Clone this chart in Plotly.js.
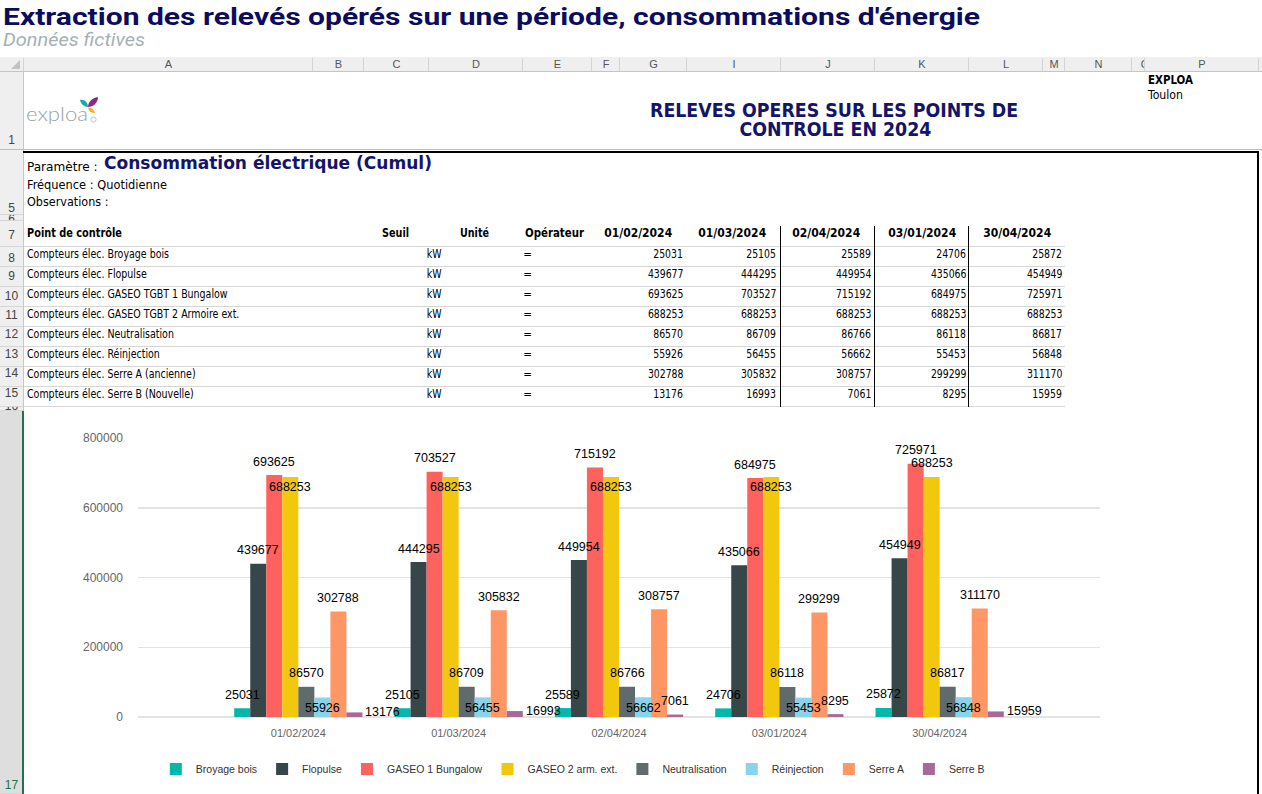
<!DOCTYPE html>
<html><head><meta charset="utf-8">
<script src="https://cdn.plot.ly/plotly-3.0.1.min.js"></script>
<style>
html,body{margin:0;padding:0;width:1262px;height:794px;overflow:hidden;background:#fff;}
#page{position:relative;width:1262px;height:794px;overflow:hidden;background:#fff;}
.abs{position:absolute;box-sizing:border-box;}
.t{position:absolute;white-space:nowrap;font-family:"DejaVu Sans Condensed","DejaVu Sans",sans-serif;color:#000;}
#chart{position:absolute;left:24px;top:411px;width:1234px;height:383px;}
</style></head>
<body><div id="page"><div id="chart"></div></div>
<script>
// ---------- DATA ----------
const dates = ['01/02/2024','01/03/2024','02/04/2024','03/01/2024','30/04/2024'];
const pointNames = ['Compteurs élec. Broyage bois','Compteurs élec. Flopulse','Compteurs élec. GASEO TGBT 1 Bungalow','Compteurs élec. GASEO TGBT 2 Armoire ext.','Compteurs élec. Neutralisation','Compteurs élec. Réinjection','Compteurs élec. Serre A (ancienne)','Compteurs élec. Serre B (Nouvelle)'];
const seriesNames = ['Broyage bois','Flopulse','GASEO 1 Bungalow','GASEO 2 arm. ext.','Neutralisation','Réinjection','Serre A','Serre B'];
const broyage = [25031,25105,25589,24706,25872];
const flopulse = [439677,444295,449954,435066,454949];
const gaseo1 = [693625,703527,715192,684975,725971];
const gaseo2 = [688253,688253,688253,688253,688253];
const neutralisation = [86570,86709,86766,86118,86817];
const reinjection = [55926,56455,56662,55453,56848];
const serreA = [302788,305832,308757,299299,311170];
const serreB = [13176,16993,7061,8295,15959];
const unit = 'kW';
const operator = '=';
const yTicks = [0,200000,400000,600000,800000];
const colLetters = ['A','B','C','D','E','F','G','I','J','K','L','M','N','O','P'];
const rowLabels = ['1','5','6','7','8','9','10','11','12','13','14','15','16','17'];

// ---------- STYLE ----------
const seriesValues = [broyage,flopulse,gaseo1,gaseo2,neutralisation,reinjection,serreA,serreB];
const colors = ['#01B8AA','#374649','#FD625E','#F2C80F','#5F6B6D','#8AD4EB','#FE9666','#A66999'];
const labelPlace = [
  ['out','out','out','out','out'],
  ['out','out','out','out','out'],
  ['out','out','out','out','out'],
  ['in','in','in','in','out'],
  ['out','out','out','out','out'],
  ['in','in','in','in','in'],
  ['out','out','out','out','out'],
  ['right','right','out','out','right']
];
const NAVY = '#14146a';
const page = document.getElementById('page');
const SS = '"DejaVu Sans Condensed","DejaVu Sans",sans-serif';

function box(x,y,w,h,bg,parent){
  const d=document.createElement('div'); d.className='abs';
  Object.assign(d.style,{left:x+'px',top:y+'px',width:w+'px',height:h+'px',background:bg||'transparent'});
  (parent||page).appendChild(d); return d;
}
const cv=document.createElement('canvas').getContext('2d');
function measure(str,fs,bold,family){
  cv.font=(bold?'bold ':'')+fs+'px '+(family||SS);
  return cv.measureText(str).width;
}
function text(str,o){
  const s=document.createElement('div'); s.className='t'; s.textContent=str;
  const fs=o.fs||11.5;
  s.style.fontSize=fs+'px'; s.style.lineHeight=(fs*1.2)+'px';
  if(o.bold) s.style.fontWeight='bold';
  if(o.weight) s.style.fontWeight=o.weight;
  if(o.italic) s.style.fontStyle='italic';
  if(o.family) s.style.fontFamily=o.family;
  s.style.color=o.color||'#000';
  (o.parent||page).appendChild(s);
  const nat=s.getBoundingClientRect().width;
  const sx=o.w? o.w/nat : (o.sx||1);
  const al=o.align||'left';
  const left= al==='left'? o.x : al==='right'? o.x-nat : o.x-nat/2;
  s.style.left=left+'px';
  s.style.top=(o.cy-0.585*fs)+'px';
  s.style.transformOrigin= al==='left'?'0 50%': al==='right'?'100% 50%':'50% 50%';
  s.style.transform='scaleX('+sx+')';
  return s;
}

// ---------- PAGE TITLE ----------
text('Extraction des relevés opérés sur une période, consommations d\'énergie',{x:3,cy:16.5,fs:24.5,bold:true,family:'Roboto',color:'#0c0c5c',w:977});
text('Données fictives',{x:3,cy:39.4,fs:18,italic:true,family:'Roboto',color:'#a7afb4',w:142});

// ---------- SPREADSHEET CHROME ----------
const colBounds=[23,312,363,428,522,591,619,686,780,874,968,1042,1064,1131,1144,1258,1300];
box(0,57,1262,15,'#efefef');
box(0,71,1262,1,'#c4c4c4');
const tri=box(11,60,9,9,'#c2c2c2'); tri.style.clipPath='polygon(100% 0,100% 100%,0 100%)';
for(let i=0;i<colBounds.length-1;i++){
  box(colBounds[i],58,1,13,'#d4d4d4');
  if(i<colLetters.length){
    const c=box(colBounds[i]+1,57,colBounds[i+1]-colBounds[i]-1,15); c.style.overflow='hidden';
    const cx = colLetters[i]==='O' ? (1145-colBounds[i]-1) : (colBounds[i+1]-colBounds[i])/2;
    text(colLetters[i],{x:cx,cy:7.5,fs:11,align:'center',color:'#555',family:'"Liberation Sans",Arial,sans-serif',parent:c});
  }
}
// row headers
const rowCells=[[72,150],[150,215],[215,221],[221,246.5],[246.5,266.5],[266.5,286.5],[286.5,306.5],[306.5,326.5],[326.5,346.5],[346.5,366.5],[366.5,386.5],[386.5,406.5],[406.5,411],[411,794]];
const rowCy=[140,208,219.5,235,258.3,276.5,295.7,315,334.3,354,373.3,393.3,406,785];
rowCells.forEach((r,i)=>{
  const last = i===rowCells.length-1;
  const c=box(0,r[0],23,r[1]-r[0],last?'#dedede':'#efefef'); c.style.overflow='hidden';
  c.style.borderBottom='1px solid #d6d6d6';
  text(rowLabels[i],{x:11.5,cy:rowCy[i]-r[0],fs:12,align:'center',color:last?'#217346':'#444',family:'"Liberation Sans",Arial,sans-serif',parent:c});
});
box(23,72,1,339,'#c6c6c6');
box(22,411,2,383,'#217346');
box(0,149,1262,1,'#bdbdbd');

// logo
text('exploa',{x:26,cy:114,fs:19,weight:300,family:'Lato,"Open Sans",sans-serif',color:'#97a2a5',w:62});
const logo=document.createElementNS('http://www.w3.org/2000/svg','svg');
logo.setAttribute('width','26'); logo.setAttribute('height','30');
logo.style.position='absolute'; logo.style.left='78px'; logo.style.top='95px';
logo.innerHTML='<path d="M2,5 C6,4 10,7 10,12 C6,12 3,9 2,5Z" fill="#1aa9a0"/>'+
 '<path d="M10,12 C10,7 14,3 20,2 C20,8 15,12 10,12Z" fill="#8a2a82"/>'+
 '<path d="M10,13 C13,12 16,14 17,18 C13,18 11,16 10,13Z" fill="#f0b21c"/>'+
 '<circle cx="15.5" cy="24.5" r="2.6" fill="none" stroke="#b0b8ba" stroke-width="0.8"/>';
page.appendChild(logo);

// row 1 texts
text('RELEVES OPERES SUR LES POINTS DE',{x:834,cy:109.7,fs:19,bold:true,color:NAVY,align:'center',w:368});
text('CONTROLE EN 2024',{x:835,cy:129,fs:19,bold:true,color:NAVY,align:'center',w:192});
text('EXPLOA',{x:1148,cy:81,fs:11.5,bold:true,w:45});
text('Toulon',{x:1148,cy:95.5,fs:11.5,w:35});

// borders
box(23,151,1236,2,'#000');
box(1257,151,2,643,'#000');

// row 5
text('Paramètre :',{x:26.5,cy:167.5,fs:11.5,w:70.5});
text('Consommation électrique (Cumul)',{x:104,cy:163,fs:17.5,bold:true,color:NAVY,w:328});
text('Fréquence : Quotidienne',{x:26.5,cy:186,fs:11.5,w:140});
text('Observations :',{x:26.5,cy:203,fs:11.5,w:81.5});

// table header
const hdrCy=234;
text('Point de contrôle',{x:26.5,cy:hdrCy,fs:11.5,bold:true,w:95});
text('Seuil',{x:382,cy:hdrCy,fs:11.5,bold:true,w:27});
text('Unité',{x:460,cy:hdrCy,fs:11.5,bold:true,w:29});
text('Opérateur',{x:525,cy:hdrCy,fs:11.5,bold:true,w:59});
const dateRight=[672,766,860,956,1051];
const numRight=[683,776,871,966,1062];
dates.forEach((d,j)=>text(d,{x:dateRight[j],cy:hdrCy,fs:11.5,bold:true,align:'right',w:68}));
// table lines
for(let i=0;i<=8;i++) box(24,245.5+20*i,1041,1.5,'#d6d6d6');
[780,874,968].forEach(x=>box(x,226,1,181,'#000'));
// table body
const nameSx=142/measure(pointNames[0],11.5,false);
const numSx=35.6/measure('439677',11.5,false);
pointNames.forEach((n,i)=>{
  const cy=254.5+20*i;
  text(n,{x:26.5,cy,fs:11.5,sx:nameSx});
  text(unit,{x:434.6,cy,fs:11.5,align:'center',sx:nameSx});
  text(operator,{x:527.5,cy,fs:11.5,align:'center'});
  seriesValues[i].forEach((v,j)=>text(String(v),{x:numRight[j],cy,fs:11.5,align:'right',sx:numSx}));
});

// ---------- CHART ----------
const CF='"Liberation Sans",Arial,sans-serif';
const lblFont={family:CF,size:12.5,color:'#000'};
const nSeries=seriesNames.length, groupW=0.8, barW=groupW/nSeries;
const traces=seriesNames.map((n,k)=>({
  type:'bar',name:n,x:dates,y:seriesValues[k],
  marker:{color:colors[k],line:{width:0}},
  hoverinfo:'skip'
}));
// data labels drawn on top of every bar (as in the reference)
const annotations=[];
labelPlace.forEach((arr,k)=>arr.forEach((p,i)=>{
  const v=seriesValues[k][i];
  const cx=i-groupW/2+barW*(k+0.5);
  const a={xref:'x',yref:'y',y:v,text:String(v),showarrow:false,font:lblFont,yanchor:'middle'};
  if(p==='right'){ a.x=cx+barW/2; a.xanchor='left'; a.xshift=1; }
  else { a.x=cx; a.xanchor='center'; a.yshift = p==='in' ? -10.5 : 13.5; }
  annotations.push(a);
}));
const layout={
  width:1234,height:383,margin:{l:114,r:158,t:27,b:76},
  paper_bgcolor:'#fff',plot_bgcolor:'#fff',
  barmode:'group',bargap:1-groupW,bargroupgap:0,
  font:{family:CF,size:12,color:'#000'},
  xaxis:{type:'category',range:[-1,5],showgrid:false,zeroline:false,showline:false,ticks:'',
    tickfont:{family:CF,size:11,color:'#666'},ticklabelstandoff:8,fixedrange:true},
  yaxis:{range:[0,800000],tickmode:'array',tickvals:yTicks,ticktext:yTicks.map(String),
    showgrid:true,gridcolor:'#e3e3e3',gridwidth:1.5,zeroline:true,zerolinecolor:'#e3e3e3',zerolinewidth:1.5,
    showline:false,ticks:'',tickfont:{family:CF,size:12,color:'#666'},ticklabelstandoff:14,fixedrange:true},
  showlegend:true,
  legend:{orientation:'h',x:0.452,xanchor:'center',y:-0.182,yanchor:'middle',
    font:{family:CF,size:10.5,color:'#333'},bgcolor:'rgba(0,0,0,0)'},
  annotations
};
Plotly.newPlot('chart',traces,layout,{displayModeBar:false,staticPlot:true});
</script>
</body></html>
